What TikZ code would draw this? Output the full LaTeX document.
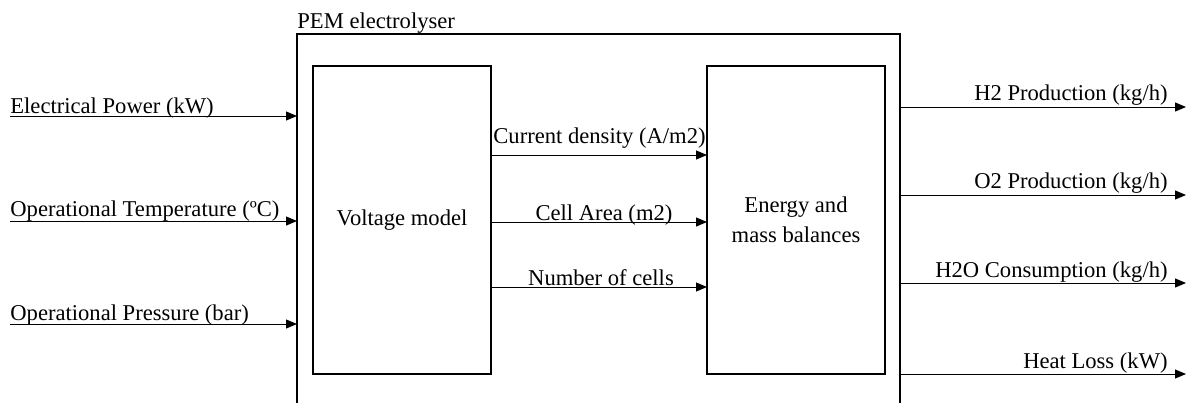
\documentclass[tikz,border=0pt]{standalone}
\usepackage{fontspec}
\setmainfont{Liberation Serif}
\usetikzlibrary{arrows.meta}
\begin{document}
\begin{tikzpicture}[x=0.5pt,y=-0.5pt,
  box/.style={draw, line width=0.9pt, inner sep=0pt, outer sep=0pt, anchor=north west, minimum width=89pt, minimum height=154pt},
  flow/.style={line width=0.5pt, -{Triangle[length=5.5pt,width=4.5pt]}},
  lbl/.style={inner sep=0pt, font=\fontsize{11.3}{15}\selectfont},
]
\useasboundingbox (0,0) rectangle (1192,402);
\clip (0,0) rectangle (1192,402);
% outer box
\node[draw, line width=0.7pt, inner sep=0pt, outer sep=0pt, anchor=north west, minimum width=301.5pt, minimum height=200pt] (pem) at (297,34) {};
\node[lbl, anchor=base west] (pemlbl) at (297,28) {PEM electrolyser};
% inner boxes
\node[box] (vm) at (313,66) {};
\node[lbl] (vmlbl) at (vm.center) {Voltage model};
\node[box] (emb) at (707,66) {};
\node[lbl, align=center] (emblbl) at (emb.center) {Energy and\\mass balances};
% inputs
\coordinate (in1) at (10,116);
\coordinate (in2) at (10,221);
\coordinate (in3) at (10,324);
\draw[flow] (in1) -- (in1 -| pem.west);
\draw[flow] (in2) -- (in2 -| pem.west);
\draw[flow] (in3) -- (in3 -| pem.west);
\node[lbl, anchor=base west] (in1lbl) at (10,113) {Electrical Power (kW)};
\node[lbl, anchor=base west] (in2lbl) at (10,216) {Operational Temperature (ºC)};
\node[lbl, anchor=base west] (in3lbl) at (10,320) {Operational Pressure (bar)};
% middle
\coordinate (m1) at (600,155);
\coordinate (m2) at (600,222);
\coordinate (m3) at (600,287);
\draw[flow] (vm.east |- m1) -- (emb.west |- m1);
\draw[flow] (vm.east |- m2) -- (emb.west |- m2);
\draw[flow] (vm.east |- m3) -- (emb.west |- m3);
\node[lbl, anchor=base west] (m1lbl) at (493,143) {Current density (A/m2)};
\node[lbl, anchor=base] (m2lbl) at (604,220) {Cell Area (m2)};
\node[lbl, anchor=base] (m3lbl) at (601,285) {Number of cells};
% outputs
\coordinate (o1) at (1186,107);
\coordinate (o2) at (1186,195);
\coordinate (o3) at (1186,283);
\coordinate (o4) at (1186,374);
\draw[flow] (pem.east |- o1) -- (o1);
\draw[flow] (pem.east |- o2) -- (o2);
\draw[flow] (pem.east |- o3) -- (o3);
\draw[flow] (pem.east |- o4) -- (o4);
\node[lbl, anchor=base east] (o1lbl) at (1168,100) {H2 Production (kg/h)};
\node[lbl, anchor=base east] (o2lbl) at (1168,188) {O2 Production (kg/h)};
\node[lbl, anchor=base east] (o3lbl) at (1168,277) {H2O Consumption (kg/h)};
\node[lbl, anchor=base east] (o4lbl) at (1168,368) {Heat Loss (kW)};
\end{tikzpicture}
\end{document}
